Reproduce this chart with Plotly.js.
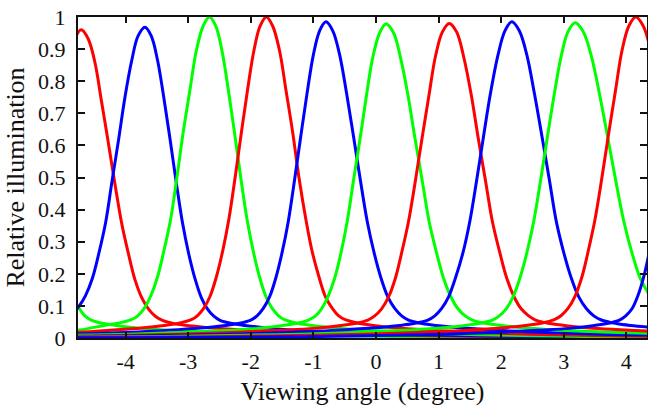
<!DOCTYPE html>
<html>
<head>
<meta charset="utf-8">
<script src="https://cdn.plot.ly/plotly-3.0.1.min.js"></script>
<style>html,body{margin:0;padding:0;background:#fff;}#chart{width:648px;height:408px;}</style>
</head>
<body>
<div id="chart"></div>
<script>
// Tick labels
const xTickVals = [-4, -3, -2, -1, 0, 1, 2, 3, 4];
const xTickText = ['-4', '-3', '-2', '-1', '0', '1', '2', '3', '4'];
const yTickVals = [0, 0.1, 0.2, 0.3, 0.4, 0.5, 0.6, 0.7, 0.8, 0.9, 1];
const yTickText = ['0', '0.1', '0.2', '0.3', '0.4', '0.5', '0.6', '0.7', '0.8', '0.9', '1'];

// Series (viewing angle in degree, relative illumination)
const green0X = [-4.95, -4.85, -4.75, -4.65, -4.55, -4.35, -4.15, -3.75, -3.25, -2.75, -1.75, -0.75, 0.25, 1.25, 3.25, 4.25, 5.25];
const green0Y = [0.186, 0.127, 0.095, 0.069, 0.056, 0.045, 0.039, 0.030, 0.024, 0.019, 0.012, 0.008, 0.005, 0.003, 0.001, 0.0007, 0.0005];

const red1X = [-5.01, -4.91, -4.81, -4.71, -4.60, -4.49, -4.39, -4.28, -4.17, -4.06, -3.95, -3.85, -3.74, -3.63, -3.52, -3.41, -3.20, -2.98, -2.55, -2.01, -1.47, -0.39, 0.69, 1.77, 2.85, 5.01];
const red1Y = [0.744, 0.859, 0.933, 0.960, 0.933, 0.859, 0.744, 0.614, 0.480, 0.355, 0.259, 0.182, 0.125, 0.089, 0.067, 0.055, 0.044, 0.038, 0.030, 0.023, 0.018, 0.012, 0.008, 0.005, 0.003, 0.001];

const blue1X = [-5.16, -4.95, -4.85, -4.74, -4.64, -4.53, -4.43, -4.32, -4.22, -4.11, -4.01, -3.90, -3.80, -3.69, -3.59, -3.49, -3.39, -3.29, -3.19, -3.09, -2.99, -2.89, -2.79, -2.69, -2.59, -2.49, -2.29, -2.09, -1.69, -1.19, -0.69, 0.31, 1.31, 2.31, 3.31, 5.31];
const blue1Y = [0.045, 0.058, 0.075, 0.100, 0.132, 0.186, 0.261, 0.358, 0.484, 0.620, 0.750, 0.866, 0.941, 0.968, 0.941, 0.866, 0.750, 0.620, 0.484, 0.358, 0.261, 0.184, 0.126, 0.090, 0.068, 0.055, 0.045, 0.039, 0.030, 0.023, 0.018, 0.012, 0.008, 0.005, 0.003, 0.001];

const green1X = [-5.26, -4.74, -4.32, -4.12, -3.91, -3.80, -3.70, -3.60, -3.49, -3.39, -3.28, -3.18, -3.08, -2.97, -2.87, -2.76, -2.66, -2.56, -2.46, -2.36, -2.26, -2.16, -2.06, -1.96, -1.86, -1.76, -1.66, -1.56, -1.46, -1.26, -1.06, -0.66, -0.16, 0.34, 1.34, 2.34, 3.34, 4.34, 6.34];
const green1Y = [0.020, 0.025, 0.040, 0.046, 0.057, 0.070, 0.093, 0.130, 0.190, 0.270, 0.370, 0.500, 0.640, 0.775, 0.895, 0.972, 1.000, 0.972, 0.895, 0.775, 0.640, 0.500, 0.370, 0.270, 0.190, 0.130, 0.093, 0.070, 0.057, 0.046, 0.040, 0.031, 0.024, 0.019, 0.012, 0.008, 0.005, 0.003, 0.001];

const red2X = [-5.75, -4.75, -4.25, -3.75, -3.35, -3.15, -2.95, -2.85, -2.75, -2.65, -2.55, -2.45, -2.35, -2.25, -2.15, -2.05, -1.95, -1.85, -1.75, -1.65, -1.54, -1.44, -1.33, -1.23, -1.12, -1.02, -0.91, -0.81, -0.70, -0.60, -0.49, -0.28, -0.07, 0.35, 0.88, 1.40, 2.45, 3.50, 4.55];
const red2Y = [0.012, 0.018, 0.024, 0.031, 0.040, 0.046, 0.057, 0.070, 0.093, 0.130, 0.190, 0.270, 0.370, 0.500, 0.640, 0.775, 0.895, 0.972, 1.000, 0.972, 0.895, 0.775, 0.640, 0.500, 0.370, 0.270, 0.190, 0.130, 0.093, 0.070, 0.057, 0.046, 0.040, 0.031, 0.024, 0.019, 0.012, 0.008, 0.005];

const blue2X = [-5.80, -4.80, -3.80, -3.30, -2.80, -2.40, -2.20, -2.00, -1.90, -1.80, -1.70, -1.60, -1.50, -1.40, -1.30, -1.20, -1.10, -1.00, -0.90, -0.80, -0.69, -0.58, -0.47, -0.36, -0.25, -0.14, -0.03, 0.08, 0.19, 0.30, 0.41, 0.52, 0.74, 0.96, 1.40, 1.95, 2.50, 3.60, 4.70];
const blue2Y = [0.008, 0.012, 0.019, 0.024, 0.031, 0.039, 0.045, 0.056, 0.069, 0.092, 0.128, 0.187, 0.266, 0.364, 0.493, 0.630, 0.763, 0.882, 0.957, 0.985, 0.957, 0.882, 0.763, 0.630, 0.493, 0.364, 0.266, 0.187, 0.128, 0.092, 0.069, 0.056, 0.045, 0.039, 0.031, 0.024, 0.019, 0.012, 0.008];

const green2X = [-4.99, -3.96, -2.93, -2.42, -1.90, -1.49, -1.28, -1.08, -0.97, -0.87, -0.77, -0.66, -0.56, -0.46, -0.36, -0.25, -0.15, -0.05, 0.06, 0.16, 0.28, 0.39, 0.51, 0.62, 0.74, 0.85, 0.97, 1.08, 1.20, 1.31, 1.43, 1.54, 1.77, 2.00, 2.46, 3.04, 3.61, 4.76];
const green2Y = [0.008, 0.012, 0.019, 0.023, 0.030, 0.039, 0.045, 0.056, 0.068, 0.091, 0.127, 0.186, 0.264, 0.362, 0.489, 0.626, 0.758, 0.875, 0.951, 0.978, 0.951, 0.875, 0.758, 0.626, 0.489, 0.362, 0.264, 0.186, 0.127, 0.091, 0.068, 0.056, 0.045, 0.039, 0.030, 0.023, 0.019, 0.012];

const red3X = [-5.31, -4.23, -3.15, -2.07, -1.53, -0.99, -0.56, -0.34, -0.13, -0.02, 0.09, 0.20, 0.31, 0.41, 0.52, 0.63, 0.74, 0.85, 0.95, 1.06, 1.17, 1.29, 1.40, 1.52, 1.63, 1.75, 1.86, 1.98, 2.09, 2.21, 2.32, 2.44, 2.55, 2.78, 3.01, 3.47, 4.05, 4.62];
const red3Y = [0.005, 0.008, 0.012, 0.019, 0.024, 0.030, 0.039, 0.045, 0.056, 0.069, 0.091, 0.127, 0.186, 0.265, 0.363, 0.490, 0.627, 0.760, 0.877, 0.953, 0.980, 0.953, 0.877, 0.760, 0.627, 0.490, 0.363, 0.265, 0.186, 0.127, 0.091, 0.069, 0.056, 0.045, 0.039, 0.030, 0.024, 0.019];

const blue3X = [-5.67, -4.55, -3.43, -2.31, -1.19, -0.63, -0.07, 0.38, 0.60, 0.83, 0.94, 1.05, 1.16, 1.27, 1.39, 1.50, 1.61, 1.72, 1.83, 1.95, 2.06, 2.17, 2.29, 2.41, 2.53, 2.65, 2.77, 2.88, 3.00, 3.12, 3.24, 3.36, 3.48, 3.60, 3.84, 4.07, 4.55];
const blue3Y = [0.003, 0.005, 0.008, 0.012, 0.019, 0.024, 0.031, 0.039, 0.045, 0.056, 0.069, 0.092, 0.128, 0.187, 0.266, 0.364, 0.493, 0.630, 0.763, 0.882, 0.957, 0.985, 0.957, 0.882, 0.763, 0.630, 0.493, 0.364, 0.266, 0.187, 0.128, 0.092, 0.069, 0.056, 0.045, 0.039, 0.031];

const green3X = [-5.62, -4.52, -3.42, -2.32, -1.22, -0.12, 0.43, 0.98, 1.42, 1.64, 1.86, 1.97, 2.08, 2.19, 2.30, 2.41, 2.52, 2.63, 2.74, 2.85, 2.96, 3.07, 3.18, 3.31, 3.44, 3.57, 3.70, 3.83, 3.96, 4.09, 4.22, 4.35, 4.48];
const green3Y = [0.002, 0.003, 0.005, 0.008, 0.012, 0.019, 0.024, 0.030, 0.039, 0.045, 0.056, 0.069, 0.091, 0.128, 0.187, 0.265, 0.363, 0.491, 0.628, 0.761, 0.879, 0.955, 0.982, 0.955, 0.879, 0.761, 0.628, 0.491, 0.363, 0.265, 0.187, 0.140, 0.100];

const red4X = [-5.57, -3.41, -2.33, -1.25, -0.17, 0.91, 1.45, 1.99, 2.42, 2.64, 2.85, 2.96, 3.07, 3.18, 3.29, 3.39, 3.50, 3.61, 3.72, 3.83, 3.93, 4.04, 4.15, 4.27, 4.39, 4.51];
const red4Y = [0.001, 0.003, 0.005, 0.008, 0.012, 0.019, 0.024, 0.031, 0.040, 0.046, 0.057, 0.070, 0.093, 0.130, 0.190, 0.270, 0.370, 0.500, 0.640, 0.775, 0.895, 0.972, 1.000, 0.972, 0.895, 0.775];

const blue4X = [-4.91, -3.91, -1.91, -0.91, 0.09, 1.09, 2.09, 2.59, 3.09, 3.49, 3.69, 3.89, 3.99, 4.09, 4.19, 4.29, 4.39, 4.49, 4.59];
const blue4Y = [0.0007, 0.001, 0.003, 0.005, 0.008, 0.012, 0.019, 0.024, 0.030, 0.039, 0.045, 0.056, 0.069, 0.091, 0.135, 0.200, 0.290, 0.390, 0.510];

const RED = '#ff0000', BLUE = '#0000ff', GREEN = '#00ff00';

const series = [
  [green0X, green0Y, GREEN],
  [red1X, red1Y, RED],
  [blue1X, blue1Y, BLUE],
  [green1X, green1Y, GREEN],
  [red2X, red2Y, RED],
  [blue2X, blue2Y, BLUE],
  [green2X, green2Y, GREEN],
  [red3X, red3Y, RED],
  [blue3X, blue3Y, BLUE],
  [green3X, green3Y, GREEN],
  [red4X, red4Y, RED],
  [blue4X, blue4Y, BLUE]
];

const traces = series.map(function (s) {
  return {
    type: 'scatter', mode: 'lines', x: s[0], y: s[1],
    line: {color: s[2], width: 3, shape: 'spline', smoothing: 1},
    hoverinfo: 'skip'
  };
});

const SERIF = 'Liberation Serif';

const layout = {
  width: 648, height: 408,
  margin: {l: 78, r: 1, t: 17, b: 70, pad: 0},
  paper_bgcolor: '#ffffff', plot_bgcolor: '#ffffff',
  showlegend: false,
  font: {family: SERIF, color: '#111', size: 22},
  xaxis: {
    showline: true, linewidth: 2, linecolor: '#111',
    mirror: 'ticks', ticks: 'inside', tickwidth: 2, tickcolor: '#111', ticklen: 6,
    showgrid: false, zeroline: false,
    range: [-4.76, 4.33], tickmode: 'array', tickvals: xTickVals, ticktext: xTickText,
    tickfont: {family: SERIF, size: 22, color: '#111'},
    ticklabelstandoff: 3,
    title: {text: 'Viewing angle (degree)', font: {family: SERIF, size: 26, color: '#111'}, standoff: 8}
  },
  yaxis: {
    showline: true, linewidth: 2, linecolor: '#111',
    mirror: 'ticks', ticks: 'inside', tickwidth: 2, tickcolor: '#111', ticklen: 7,
    showgrid: false, zeroline: false,
    range: [0, 1], tickmode: 'array', tickvals: yTickVals, ticktext: yTickText,
    tickfont: {family: SERIF, size: 22, color: '#111'},
    ticklabelstandoff: 6,
    title: {text: 'Relative illumination', font: {family: SERIF, size: 26, color: '#111'}, standoff: 6}
  }
};

Plotly.newPlot('chart', traces, layout, {displayModeBar: false, staticPlot: true});
</script>
</body>
</html>
